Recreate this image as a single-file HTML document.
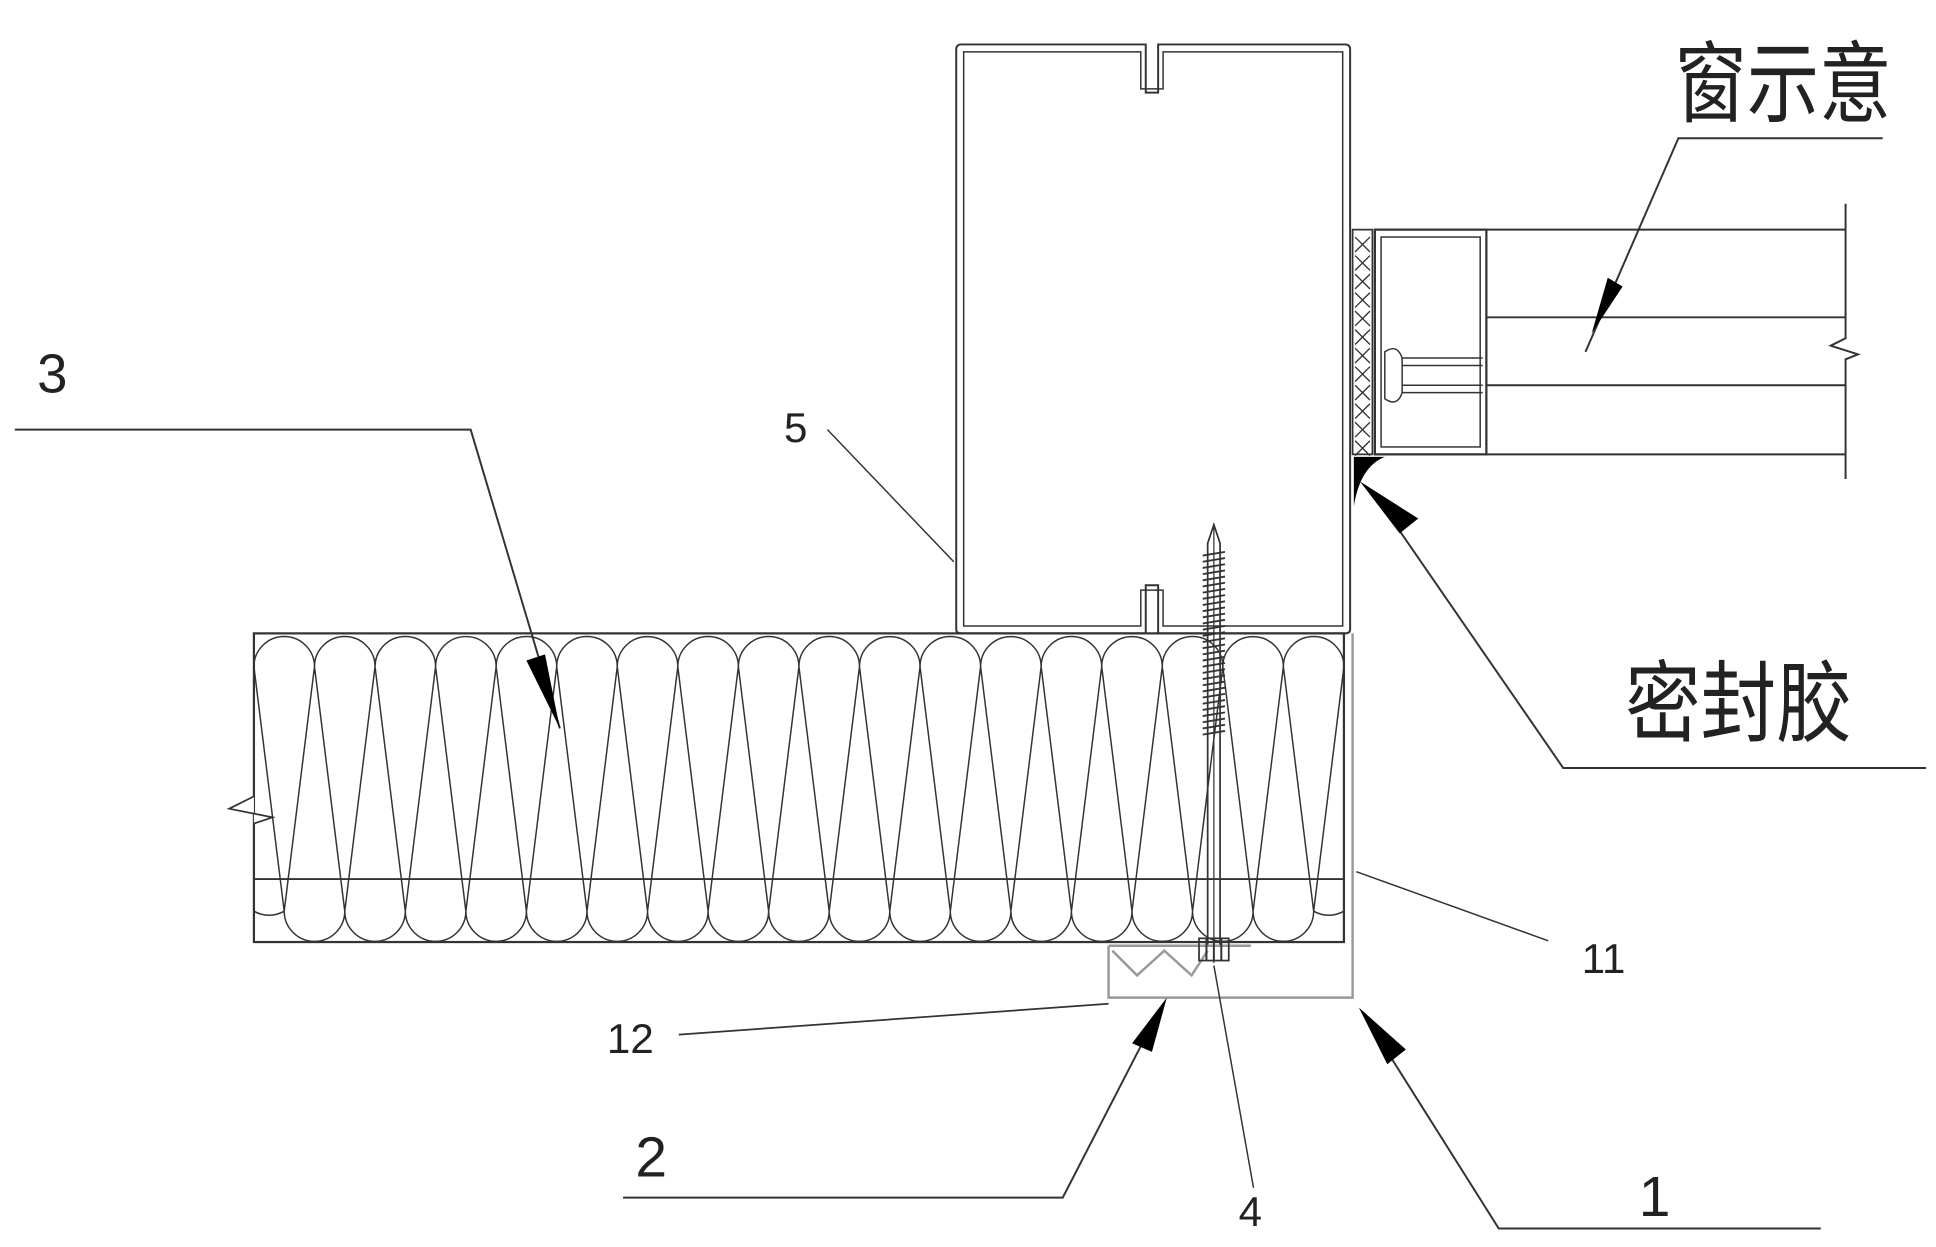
<!DOCTYPE html>
<html><head><meta charset="utf-8"><style>
html,body{margin:0;padding:0;background:#fff;}
svg{display:block;}
text{font-family:"Liberation Sans","Noto Sans CJK SC",sans-serif;fill:#222;}
</style></head><body>
<svg id="s" width="1936" height="1247" viewBox="0 0 1563 1010" preserveAspectRatio="none" xmlns="http://www.w3.org/2000/svg">
<g fill="none" stroke="#333" stroke-width="1.6">
<!-- steel box -->
<path d="M772,510 V40 Q772,36 776,36 H925 V75 H935 V36 H1086 Q1090,36 1090,40 V510 Q1090,513 1086,513 H935 V474 H925 V513 H776 Q772,513 772,510 Z"/>
<path d="M778,507 V42 H921 V72 H939 V42 H1084 V507 H939 V478 H921 V507 Z" stroke-width="1.2"/>
<!-- insulation -->
<rect x="205" y="513" width="880" height="250" stroke-width="1.8"/>
<line x1="205" y1="712" x2="1085" y2="712" stroke-width="1.6"/>
<g id="ins" stroke-width="1.2"></g>
<path d="M205,513 L205,645 L185,655 L220,662 L205,667 V763" fill="#fff" stroke-width="1.4"/>
<!-- right thin vertical of bracket 1 -->
<path d="M1092,513 V808 H895 V766" stroke="#999" stroke-width="2"/>
<path d="M1085,513 V763" stroke-width="1.4"/>
<!-- bracket 12 -->
<path d="M895,766 H1010 M898,770 L918,790 L940,770 L962,790 L975,770" stroke="#999" stroke-width="2"/>
<!-- screw -->
<path d="M975,765 V440 L980,425 L985,440 V765" stroke-width="1.4"/>
<line x1="980" y1="425" x2="980" y2="780" stroke-width="1"/>
<g id="thr" stroke-width="1.5"></g>
<rect x="968" y="760" width="24" height="18" stroke-width="1.4"/>
<line x1="974" y1="760" x2="974" y2="778"/><line x1="980" y1="760" x2="980" y2="778"/><line x1="986" y1="760" x2="986" y2="778"/>
<!-- window gasket -->
<rect x="1092" y="186" width="16" height="182" stroke-width="1.4"/>
<g id="xs" stroke-width="1.1"></g>
<!-- window frame -->
<rect x="1110" y="186" width="90" height="182" stroke-width="1.8"/>
<rect x="1115" y="192" width="80" height="170" stroke-width="1.2"/>
<path d="M1120,290 H1197 M1120,296 H1197 M1120,312 H1197 M1120,318 H1197" stroke-width="1.2"/>
<path d="M1118,285 Q1128,278 1132,290 V318 Q1128,330 1118,323 Z" fill="#fff" stroke-width="1.2"/>
<path d="M1200,186 H1490 M1200,257 H1490 M1200,312 H1490 M1200,368 H1490" stroke-width="1.6"/>
<path d="M1490,165 V274 L1478,280 L1500,287 L1490,291 V388" stroke-width="1.6"/>
<!-- sealant -->
<path d="M1093,370 H1118 Q1098,378 1093,410 Z" fill="#000" stroke="none"/>
<!-- leaders -->
<path d="M1520,112 H1355 L1280,285" stroke-width="1.6"/>
<path d="M1555,622 H1262 L1108,398" stroke-width="1.6"/>
<path d="M12,348 H380 L452,590" stroke-width="1.6"/>
<path d="M668,348 L770,455" stroke-width="1.2"/>
<path d="M1250,762 L1095,706" stroke-width="1.2"/>
<path d="M548,838 L895,813" stroke-width="1.4"/>
<path d="M503,970 H858 L935,820" stroke-width="1.6"/>
<path d="M1012,962 L980,782" stroke-width="1.2"/>
<path d="M1470,995 H1210 L1100,820" stroke-width="1.6"/>
</g>
<g fill="#000">
<polygon points="1285,270 1298,225 1310,232"/>
<polygon points="1098,390 1145,420 1130,432"/>
<polygon points="452,590 425,535 440,530"/>
<polygon points="942,808 914,845 930,852"/>
<polygon points="1097,816 1120,862 1135,850"/>
</g>
<text x="1352" y="93" font-size="72" textLength="175" lengthAdjust="spacingAndGlyphs">窗示意</text>
<text x="1312" y="595" font-size="72" textLength="183" lengthAdjust="spacingAndGlyphs">密封胶</text>
<text x="30" y="318" font-size="44">3</text>
<text x="633" y="358" font-size="34">5</text>
<text x="1277" y="788" font-size="34">11</text>
<text x="490" y="853" font-size="34">12</text>
<text x="513" y="953" font-size="46">2</text>
<text x="1000" y="993" font-size="34">4</text>
<text x="1323" y="985" font-size="46">1</text>
</svg>
<script>
var ns="http://www.w3.org/2000/svg";
var g=document.getElementById("ins");
var n=18,x0=205,w=880/n,r=w/2,ty=540,by=738;
var d="";
for(var i=0;i<n;i++){
 var x=x0+i*w;
 d+="M"+x+","+ty+" A"+r+","+r+" 0 0 1 "+(x+w)+","+ty;
 d+=" M"+x+","+ty+" L"+(x+r)+","+by+" L"+(x+w)+","+ty+" ";
 d+=" M"+(x+r)+","+by+" A"+r+","+r+" 0 0 0 "+Math.min(x+r+w,1085)+","+by+" ";
}
d+=" M"+x0+","+ty+" L"+(x0+r)+","+by+" M"+x0+","+by+" A"+r+","+r+" 0 0 0 "+(x0+r)+","+by;
var p=document.createElementNS(ns,"path");p.setAttribute("d",d);g.appendChild(p);
var t=document.getElementById("thr");var td="";
for(var y=450;y<600;y+=5){td+="M971,"+y+" L989,"+(y-3)+" ";}
var p2=document.createElementNS(ns,"path");p2.setAttribute("d",td);t.appendChild(p2);
var xs=document.getElementById("xs");var xd="";
for(var y=192;y<365;y+=15){xd+="M1094,"+y+" L1106,"+(y+12)+" M1106,"+y+" L1094,"+(y+12)+" ";}
var p3=document.createElementNS(ns,"path");p3.setAttribute("d",xd);xs.appendChild(p3);
</script>
</body></html>
